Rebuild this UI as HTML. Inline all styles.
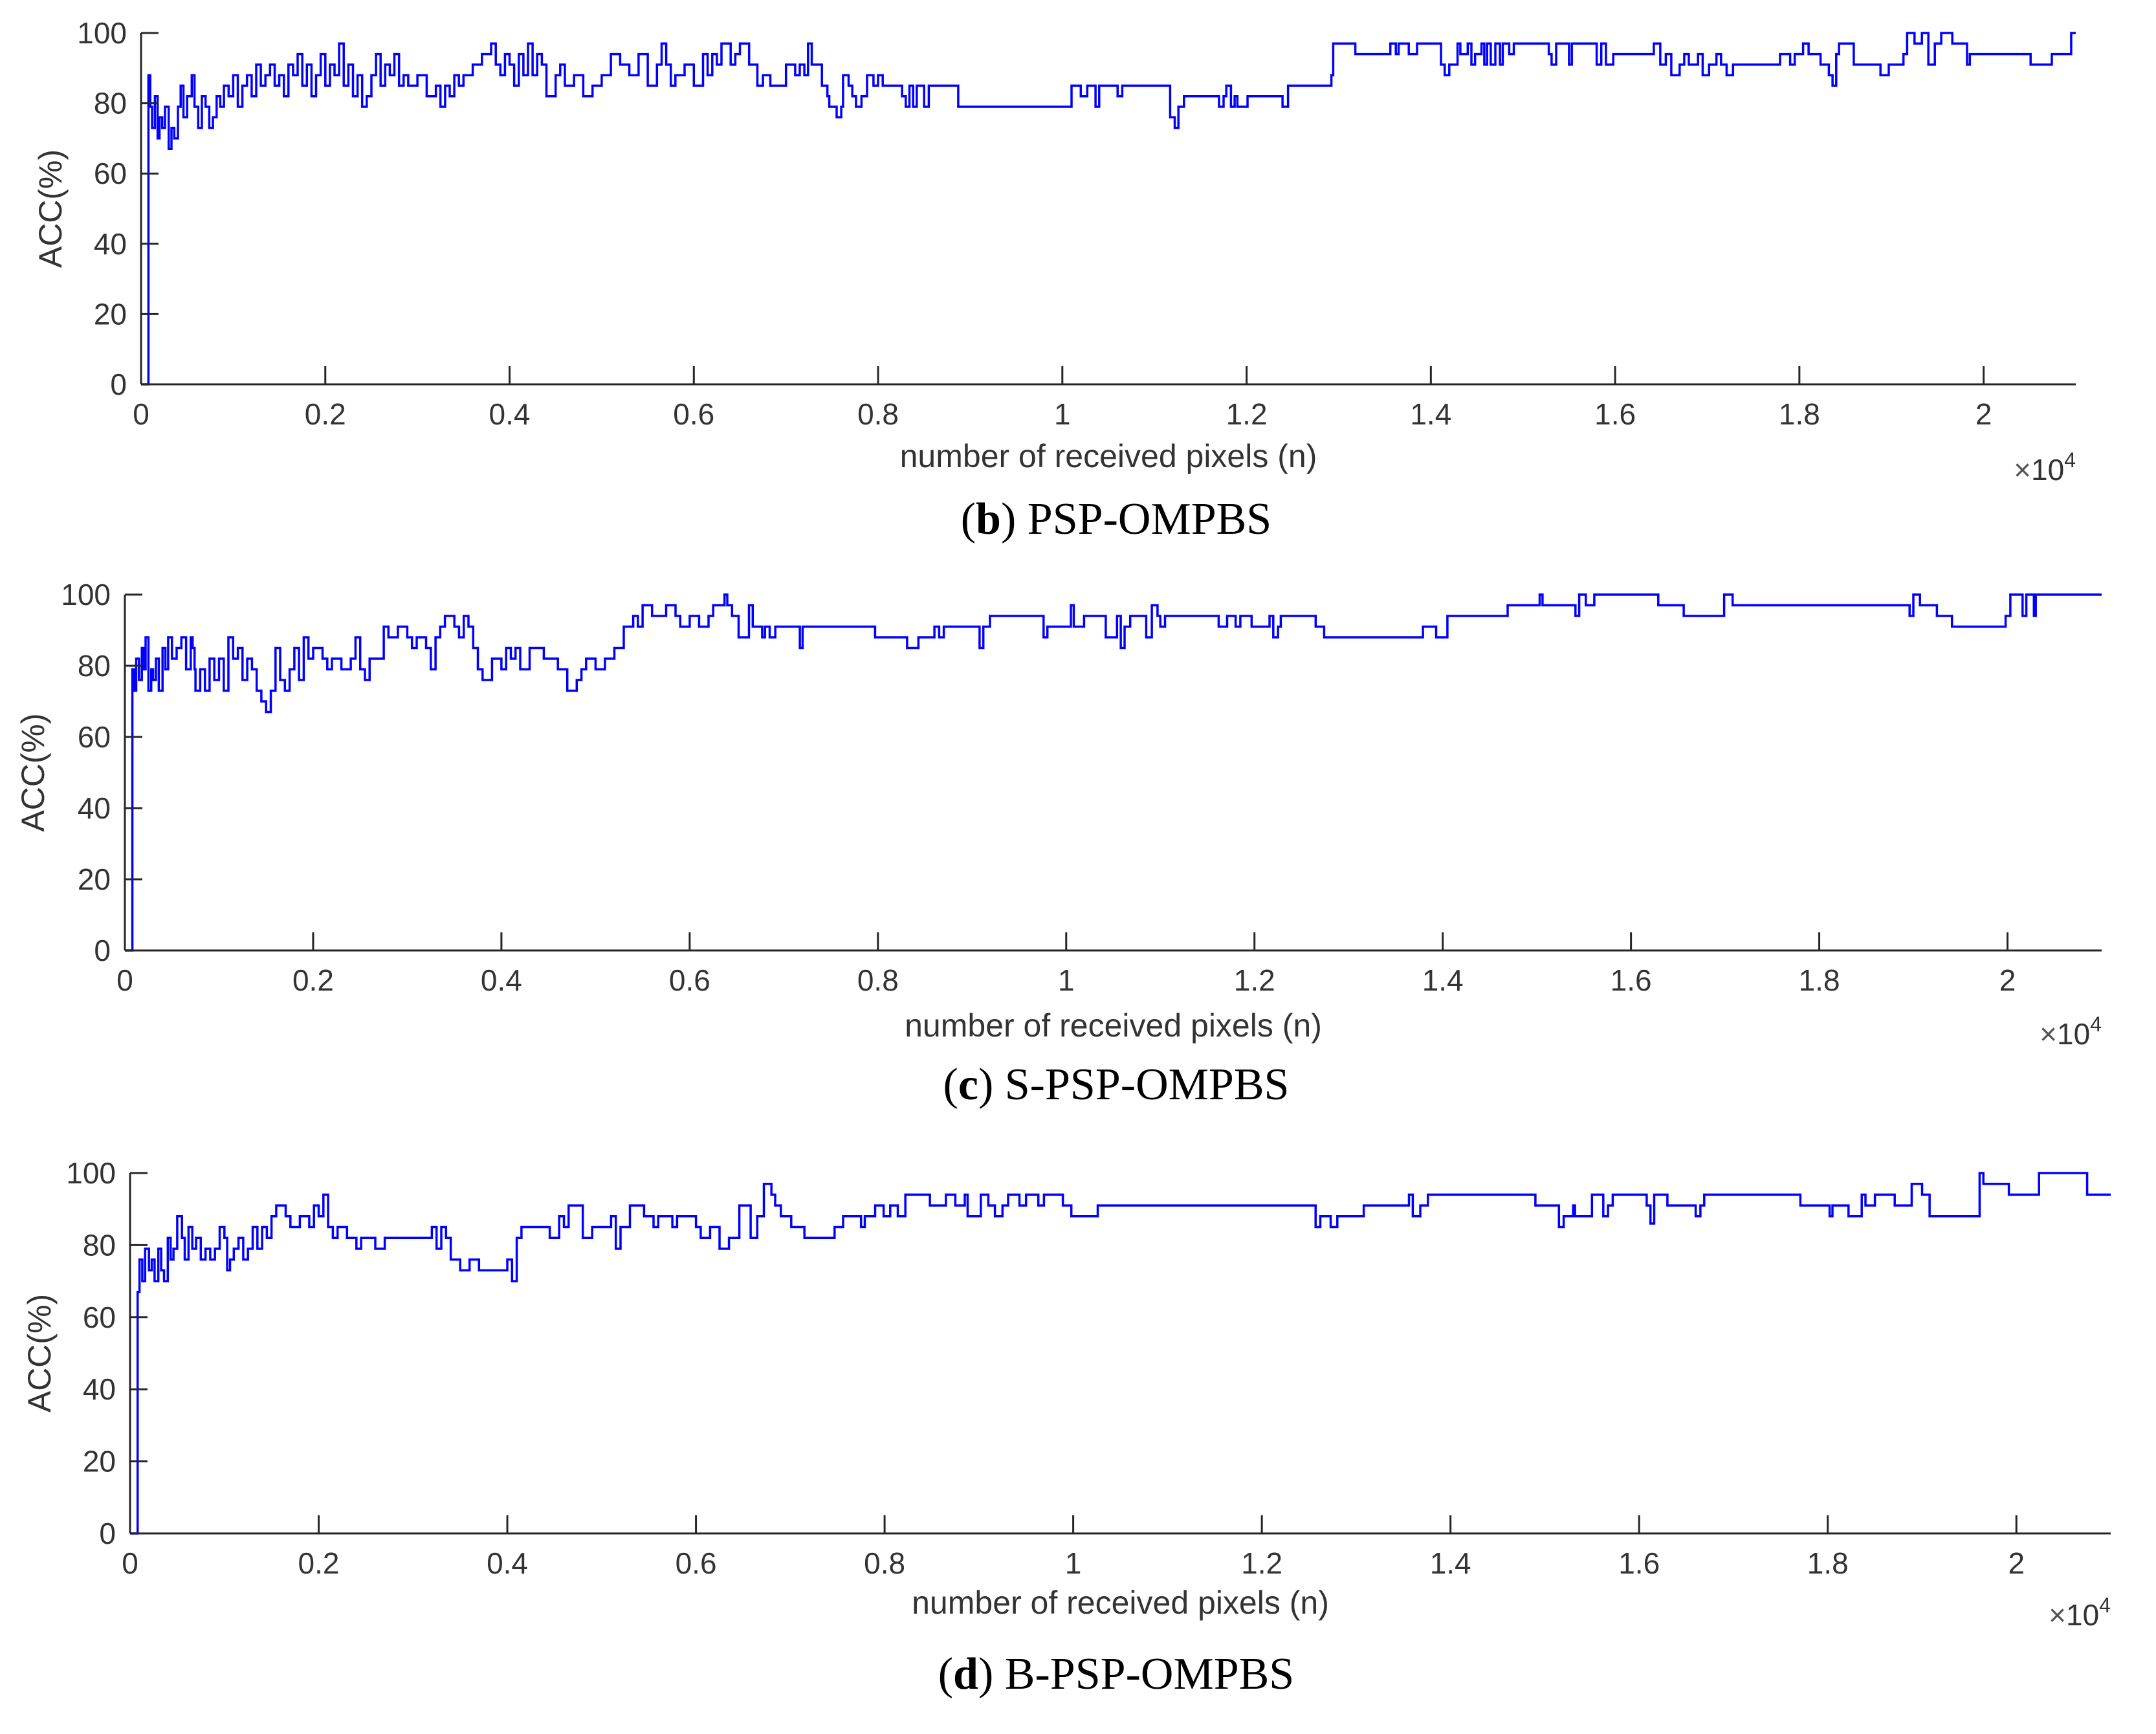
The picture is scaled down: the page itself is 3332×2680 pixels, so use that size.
<!DOCTYPE html>
<html><head><meta charset="utf-8">
<style>
html,body{margin:0;padding:0;background:#fff;}
svg{display:block;}
.tick{font-family:"Liberation Sans",sans-serif;font-size:46px;fill:#333;}
.ttl{font-family:"Liberation Sans",sans-serif;font-size:50px;fill:#333;}
.cap{font-family:"Liberation Serif",serif;font-size:70px;fill:#000;}
</style></head>
<body>
<svg id="fig" width="3332" height="2680" viewBox="0 0 3332 2680" xmlns="http://www.w3.org/2000/svg">
<text class="cap" x="1725" y="825" text-anchor="middle">(<tspan font-weight="bold">b</tspan>) PSP-OMPBS</text>
<text class="cap" x="1725" y="1699" text-anchor="middle">(<tspan font-weight="bold">c</tspan>) S-PSP-OMPBS</text>
<text class="cap" x="1725" y="2610" text-anchor="middle">(<tspan font-weight="bold">d</tspan>) B-PSP-OMPBS</text>
</svg>
<script>
const yTicks=[0,20,40,60,80,100];
const xTicks=[0,0.2,0.4,0.6,0.8,1,1.2,1.4,1.6,1.8,2];
const xTickLabels=["0","0.2","0.4","0.6","0.8","1","1.2","1.4","1.6","1.8","2"];

const bX=[0,0.008,0.010,0.012,0.015,0.018,0.02,0.023,0.026,0.03,0.033,0.036,0.04,0.043,0.046,0.05,0.055,0.058,0.062,0.066,0.07,0.074,0.078,0.082,0.086,0.09,0.095,0.1,0.105,0.11,0.115,0.12,0.125,0.13,0.135,0.14,0.145,0.15,0.155,0.16,0.165,0.17,0.175,0.18,0.185,0.19,0.195,0.2,0.205,0.21,0.215,0.22,0.225,0.23,0.235,0.24,0.245,0.25,0.255,0.26,0.265,0.27,0.275,0.28,0.285,0.29,0.3,0.31,0.32,0.325,0.33,0.335,0.34,0.345,0.35,0.36,0.37,0.38,0.385,0.39,0.395,0.4,0.405,0.41,0.415,0.42,0.425,0.43,0.435,0.44,0.45,0.455,0.46,0.47,0.48,0.49,0.5,0.51,0.52,0.53,0.54,0.55,0.56,0.565,0.57,0.575,0.58,0.59,0.6,0.61,0.615,0.62,0.625,0.63,0.64,0.645,0.65,0.66,0.669,0.675,0.683,0.70,0.71,0.715,0.72,0.724,0.728,0.739,0.745,0.747,0.755,0.76,0.762,0.768,0.772,0.776,0.782,0.788,0.795,0.80,0.805,0.826,0.83,0.834,0.838,0.842,0.85,0.855,0.887,1.01,1.02,1.027,1.036,1.04,1.06,1.065,1.117,1.122,1.126,1.132,1.17,1.175,1.178,1.183,1.187,1.19,1.201,1.239,1.245,1.292,1.294,1.30,1.318,1.356,1.362,1.365,1.376,1.385,1.411,1.415,1.42,1.429,1.432,1.44,1.444,1.448,1.455,1.458,1.461,1.465,1.47,1.475,1.478,1.485,1.49,1.528,1.531,1.536,1.55,1.553,1.58,1.585,1.59,1.598,1.642,1.649,1.655,1.661,1.67,1.675,1.68,1.69,1.695,1.702,1.71,1.715,1.721,1.728,1.779,1.79,1.795,1.804,1.81,1.823,1.832,1.836,1.84,1.843,1.859,1.888,1.897,1.913,1.917,1.925,1.933,1.94,1.947,1.954,1.966,1.982,1.985,2.051,2.074,2.095,2.1];
const bY=[0,88,79,73,82,70,76,73,79,67,73,70,79,85,76,82,88,79,73,82,79,73,76,82,79,85,82,88,79,85,88,82,91,85,88,91,85,88,82,91,88,94,85,91,82,88,94,85,91,88,97,85,91,82,88,79,82,88,94,85,91,88,94,85,88,85,88,82,85,79,85,82,88,85,88,91,94,97,91,88,94,91,85,94,88,97,88,94,91,82,88,91,85,88,82,85,88,94,91,88,94,85,91,97,91,85,88,91,85,94,88,94,91,97,91,94,97,91,85,88,85,91,88,91,88,97,91,85,82,79,76,79,88,85,82,79,82,88,85,88,85,82,79,85,79,85,79,85,79,85,82,85,79,85,82,85,76,73,79,82,79,82,85,79,82,79,82,79,85,88,97,97,94,97,94,97,94,97,91,88,91,97,94,97,91,94,97,91,97,91,97,91,97,94,97,94,91,97,91,97,91,97,91,94,97,91,94,88,91,94,91,94,88,91,94,91,88,91,94,91,94,97,94,91,88,85,94,97,91,88,91,94,100,97,100,91,97,100,97,91,94,91,94,100,100];

const cX=[0,0.008,0.01,0.012,0.015,0.018,0.02,0.022,0.025,0.028,0.03,0.033,0.036,0.04,0.043,0.046,0.05,0.055,0.06,0.065,0.07,0.072,0.074,0.075,0.08,0.085,0.09,0.095,0.1,0.105,0.11,0.115,0.12,0.125,0.13,0.135,0.14,0.145,0.15,0.155,0.16,0.165,0.17,0.175,0.18,0.185,0.19,0.195,0.2,0.21,0.215,0.22,0.23,0.24,0.245,0.25,0.255,0.26,0.275,0.28,0.29,0.3,0.305,0.31,0.32,0.325,0.33,0.335,0.34,0.35,0.355,0.36,0.365,0.37,0.375,0.38,0.39,0.4,0.405,0.41,0.415,0.42,0.43,0.445,0.46,0.47,0.48,0.485,0.49,0.5,0.51,0.52,0.53,0.54,0.545,0.55,0.56,0.575,0.585,0.59,0.6,0.61,0.62,0.625,0.637,0.64,0.645,0.652,0.663,0.667,0.677,0.68,0.685,0.691,0.717,0.72,0.797,0.831,0.843,0.86,0.865,0.87,0.908,0.912,0.919,0.976,0.98,1.005,1.008,1.019,1.042,1.054,1.058,1.062,1.068,1.085,1.091,1.097,1.1,1.105,1.162,1.171,1.18,1.185,1.197,1.216,1.22,1.225,1.228,1.265,1.274,1.379,1.393,1.405,1.469,1.503,1.506,1.541,1.545,1.552,1.561,1.629,1.656,1.699,1.708,1.896,1.9,1.907,1.925,1.941,1.998,2.003,2.016,2.02,2.028,2.03,2.1];
const cY=[0,79,73,82,76,85,79,88,73,79,76,82,73,85,79,88,82,85,88,79,88,85,79,73,79,73,82,76,82,73,88,82,85,76,82,79,73,70,67,73,85,76,73,79,85,76,88,82,85,82,79,82,79,82,88,79,76,82,91,88,91,88,85,88,85,79,88,91,94,91,88,94,91,85,79,76,82,79,85,82,85,79,85,82,79,73,76,79,82,79,82,85,91,94,91,97,94,97,94,91,94,91,94,97,100,97,94,88,97,91,88,91,88,91,85,91,88,85,88,91,88,91,85,91,94,88,91,97,91,94,88,94,85,91,94,88,97,94,91,94,91,94,91,94,91,94,88,91,94,91,88,91,88,94,97,100,97,94,100,97,100,97,94,100,97,94,100,97,94,91,94,100,94,100,94,100,100];

const dX=[0,0.008,0.01,0.013,0.016,0.02,0.023,0.026,0.03,0.033,0.036,0.04,0.043,0.046,0.05,0.055,0.058,0.062,0.066,0.07,0.075,0.08,0.085,0.09,0.095,0.1,0.103,0.106,0.11,0.115,0.12,0.125,0.13,0.135,0.14,0.145,0.15,0.155,0.165,0.17,0.18,0.19,0.195,0.2,0.205,0.21,0.215,0.22,0.23,0.24,0.245,0.26,0.27,0.32,0.325,0.33,0.335,0.34,0.35,0.36,0.37,0.4,0.405,0.41,0.415,0.445,0.455,0.46,0.465,0.48,0.49,0.51,0.515,0.52,0.53,0.545,0.555,0.56,0.575,0.58,0.6,0.605,0.615,0.625,0.635,0.646,0.658,0.665,0.672,0.68,0.684,0.69,0.701,0.715,0.747,0.756,0.775,0.779,0.79,0.799,0.806,0.814,0.822,0.848,0.865,0.875,0.885,0.888,0.902,0.91,0.917,0.925,0.931,0.943,0.95,0.963,0.969,0.989,0.998,1.026,1.257,1.262,1.273,1.28,1.308,1.356,1.36,1.368,1.376,1.49,1.515,1.52,1.53,1.532,1.55,1.562,1.567,1.572,1.608,1.612,1.616,1.63,1.651,1.66,1.665,1.669,1.771,1.802,1.805,1.822,1.836,1.84,1.85,1.871,1.889,1.9,1.908,1.961,1.965,1.992,2.024,2.075,2.1];
const dY=[0,67,76,70,79,73,76,70,79,73,70,82,76,79,88,82,76,85,79,82,76,79,76,79,85,82,73,76,79,82,76,79,85,79,85,82,88,91,88,85,88,85,91,88,94,85,82,85,82,79,82,79,82,85,79,85,82,76,73,76,73,76,70,82,85,82,88,85,91,82,85,88,79,85,91,88,85,88,85,88,85,82,85,79,82,91,82,88,97,94,91,88,85,82,85,88,85,88,91,88,91,88,94,91,94,91,94,88,94,91,88,91,94,91,94,91,94,91,88,91,85,88,85,88,91,94,88,91,94,91,85,88,91,88,94,88,91,94,91,86,94,91,91,88,91,94,91,88,91,88,94,91,94,91,97,94,88,100,97,94,100,94,94];

const NS='http://www.w3.org/2000/svg';
const svg=document.getElementById('fig');
function mk(tag,attrs,parent){const e=document.createElementNS(NS,tag);for(const k in attrs)e.setAttribute(k,attrs[k]);(parent||svg).appendChild(e);return e;}

function drawChart(id,L,xs,ys){
  const g=mk('g',{});
  
  
  const sx=v=>L.x0+(L.x1-L.x0)*v/2.1;
  const sy=v=>L.yb+(L.yt-L.yb)*v/100;
  let d='M'+sx(xs[0])+','+sy(ys[0]);
  for(let i=1;i<xs.length;i++){
    d+=' H'+sx(xs[i]).toFixed(1);
    if(i<ys.length) d+=' V'+sy(ys[i]).toFixed(1);
  }
  const p=mk('path',{d:d,fill:'none',stroke:'#0000ff','stroke-width':3.5,'stroke-linejoin':'miter'},g);
  
  
  const ya=mk('line',{x1:L.x0,y1:L.yt,x2:L.x0,y2:L.yb,stroke:'#262626','stroke-width':3},g);
  
  
  const xa=mk('line',{x1:L.x0,y1:L.yb,x2:L.x1,y2:L.yb,stroke:'#262626','stroke-width':3},g);
  
  
  yTicks.forEach(v=>{
    const y=sy(v);
    const t=mk('line',{x1:L.x0,y1:y,x2:L.x0+27,y2:y,stroke:'#262626','stroke-width':3},g);
    
    
    const tx=mk('text',{class:'tick',x:L.x0-22,y:y+16,'text-anchor':'end'},g);
    
    
    tx.textContent=String(v);
  });
  xTicks.forEach((v,i)=>{
    const x=sx(v);
    const t=mk('line',{x1:x,y1:L.yb,x2:x,y2:L.yb-28,stroke:'#262626','stroke-width':3},g);
    
    
    const tx=mk('text',{class:'tick',x:x,y:L.yb+62,'text-anchor':'middle'},g);
    
    
    tx.textContent=xTickLabels[i];
  });
  const yt=mk('text',{class:'ttl',x:0,y:0,'text-anchor':'middle',transform:'translate('+(L.ytx+18)+','+((L.yt+L.yb)/2)+') rotate(-90)'},g);
  
  
  yt.textContent='ACC(%)';
  const xt=mk('text',{class:'ttl',x:(L.x0+L.x1)/2,y:L.xty,'text-anchor':'middle'},g);
  
  
  xt.textContent='number of received pixels (n)';
  const ex=mk('text',{class:'tick',x:L.x1,y:L.exy,'text-anchor':'end','font-size':'44'},g);
  
  
  ex.innerHTML='<tspan fill="#555">×</tspan>10<tspan font-size="32" dy="-20">4</tspan>';
}
drawChart('b',{x0:218,x1:3208,yt:51,yb:594,ytx:77,xty:722,exy:742},bX,bY);
drawChart('c',{x0:193,x1:3248,yt:919,yb:1469,ytx:50,xty:1602,exy:1614},cX,cY);
drawChart('d',{x0:201,x1:3262,yt:1813,yb:2370,ytx:60,xty:2494,exy:2512},dX,dY);
</script>
</body></html>
